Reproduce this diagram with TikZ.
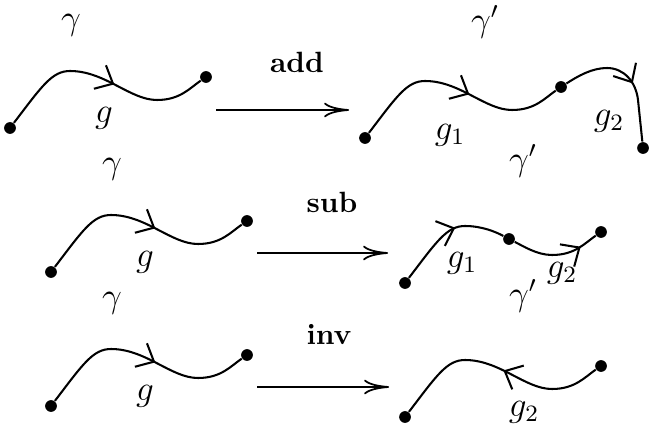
\documentclass[tikz,border=0pt]{standalone}
\usepackage{amsmath}
\usepackage{tikz}
\usetikzlibrary{arrows.meta,decorations.markings}

\begin{document}
\begin{tikzpicture}[
  x=0.012cm, y=-0.012cm,
  dot/.style={circle, fill, inner sep=0pt, minimum size=4pt},
  wire/.style={line width=0.7pt},
  fwd/.style={postaction={decorate}, decoration={markings, mark=at position #1 with {\arrow{Straight Barb[length=5pt,width=9pt]}}}},
  bwd/.style={postaction={decorate}, decoration={markings, mark=at position #1 with {\arrowreversed{Straight Barb[length=5pt,width=9pt]}}}},
  map/.style={line width=0.6pt, -{To[length=8.5pt,width=5pt]}},
  op/.style={font=\bfseries},
  lbl/.style={font=\large, inner sep=0pt},
]
\useasboundingbox (0,0) rectangle (649,430);

% left column: the path g in gamma
\foreach \n/\sx/\sy in {a/10/128, b/51/272, c/51/406} {
  \begin{scope}[shift={(\sx,\sy)}]
    \node[dot] (s\n) at (0,0) {};
    \node[dot] (e\n) at (196,-51) {};
    \draw[wire, fwd=0.57] (s\n) .. controls (32,-42) and (42,-57) .. (60,-57)
      .. controls (95,-57) and (120,-28) .. (147,-28)
      .. controls (170,-28) and (180,-40) .. (e\n);
    \node[lbl] (gam\n) at (61,-103) {$\gamma$};
    \node[lbl] (g\n) at (94,-10) {$g$};
  \end{scope}
}

% operations
\node[op] (add) at (297,62) {add};
\coordinate (ta) at (216,110);
\coordinate (ha) at (349,110);
\draw[map] (ta) -- (ha);

\node[op] (sub) at (332,202) {sub};
\coordinate (tb) at (257,253);
\coordinate (hb) at (388,253);
\draw[map] (tb) -- (hb);

\node[op] (inv) at (329,335) {inv};
\coordinate (tc) at (257,387);
\coordinate (hc) at (389,387);
\draw[map] (tc) -- (hc);

% add: g1 then g2
\begin{scope}[shift={(365,138)}]
  \node[dot] (sA) at (0,0) {};
  \node[dot] (mA) at (196,-51) {};
  \node[dot] (eA) at (278,10) {};
  \draw[wire, fwd=0.57] (sA) .. controls (32,-42) and (42,-57) .. (60,-57)
    .. controls (95,-57) and (120,-28) .. (147,-28)
    .. controls (170,-28) and (180,-40) .. (mA);
  \draw[wire, fwd=0.56] (mA) .. controls (213,-62) and (227,-70) .. (242,-70)
    .. controls (259,-70) and (271,-56) .. (273,-38) -- (eA);
  \node[lbl] (gamA) at (120,-116) {$\gamma'$};
  \node[lbl] (g1A) at (85,-3) {$g_1$};
  \node[lbl] (g2A) at (244,-17) {$g_2$};
\end{scope}

% sub: g split in two
\begin{scope}[shift={(405,283)}]
  \node[dot] (sB) at (0,0) {};
  \node[dot] (mB) at (104,-44) {};
  \node[dot] (eB) at (196,-51) {};
  \draw[wire, fwd=0.58] (sB) .. controls (32,-42) and (42,-57) .. (60,-57)
    .. controls (77,-57) and (91,-51) .. (mB);
  \draw[wire, fwd=0.79] (mB) .. controls (118,-37) and (132,-28) .. (147,-28)
    .. controls (170,-28) and (180,-40) .. (eB);
  \node[lbl] (gamB) at (118,-122) {$\gamma'$};
  \node[lbl] (g1B) at (57,-20) {$g_1$};
  \node[lbl] (g2B) at (157,-10) {$g_2$};
\end{scope}

% inv: reversed
\begin{scope}[shift={(405,417)}]
  \node[dot] (sC) at (0,0) {};
  \node[dot] (eC) at (196,-51) {};
  \draw[wire, bwd=0.54] (sC) .. controls (32,-42) and (42,-57) .. (60,-57)
    .. controls (95,-57) and (120,-28) .. (147,-28)
    .. controls (170,-28) and (180,-40) .. (eC);
  \node[lbl] (gamC) at (118,-121) {$\gamma'$};
  \node[lbl] (g2C) at (119,-5) {$g_2$};
\end{scope}
\end{tikzpicture}
\end{document}
